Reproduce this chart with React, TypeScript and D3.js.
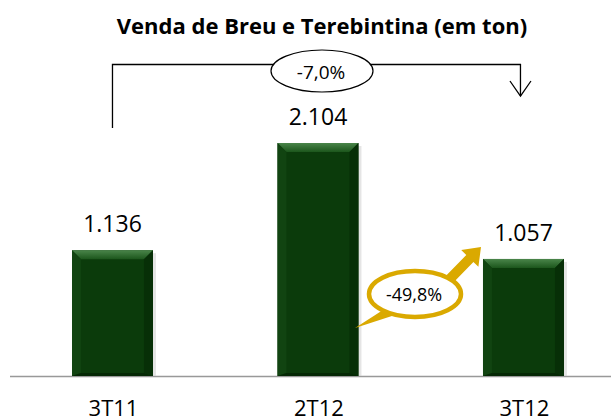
import React from "react";
import * as d3 from "d3";

const categories = ["3T11", "2T12", "3T12"];
const values = [1136, 2104, 1057];
const valueLabels = ["1.136", "2.104", "1.057"];
const title = "Venda de Breu e Terebintina (em ton)";
const changeTotal = "-7,0%";
const changeQoQ = "-49,8%";

const W = 611;
const H = 419;
const FONT = "'Open Sans', Lato, sans-serif";

function blockArrow(sx: number, sy: number, tx: number, ty: number, shaft: number, head: number, headLen: number) {
  const dx = tx - sx, dy = ty - sy;
  const L = Math.hypot(dx, dy);
  const ux = dx / L, uy = dy / L;
  const nx = -uy, ny = ux;
  const hx = tx - ux * headLen, hy = ty - uy * headLen;
  const p = (x: number, y: number) => `${x.toFixed(1)},${y.toFixed(1)}`;
  return [
    p(sx + nx * shaft, sy + ny * shaft),
    p(hx + nx * shaft, hy + ny * shaft),
    p(hx + nx * head, hy + ny * head),
    p(tx, ty),
    p(hx - nx * head, hy - ny * head),
    p(hx - nx * shaft, hy - ny * shaft),
    p(sx - nx * shaft, sy - ny * shaft),
  ].join(" ");
}

export default function App() {
  const baseY = 376;
  const x = d3.scaleBand<string>().domain(categories).range([10.35, 625.6]).paddingInner(0.606).paddingOuter(0.3);
  const y = d3.scaleLinear().domain([0, 2104]).range([baseY, 143]);
  const bw = x.bandwidth();
  const gold = "#DAA900";
  const bev = 9;

  return (
    <svg width={W} height={H} style={{ position: "absolute", left: 0, top: 0, fontFamily: FONT }}>
      <defs>
        <linearGradient id="topBev" x1="0" y1="0" x2="0" y2="1">
          <stop offset="0" stopColor="#4a854a" />
          <stop offset="1" stopColor="#1c561c" />
        </linearGradient>
        <marker id="arr" viewBox="0 0 20 24" refX="18" refY="12" markerWidth="20" markerHeight="24" orient="auto" markerUnits="userSpaceOnUse">
          <path d="M3,1.5 L18,12 L3,22.5" fill="none" stroke="#000" strokeWidth="1.3" />
        </marker>
      </defs>
      <rect width={W} height={H} fill="#fff" />
      <text x={322} y={34} textAnchor="middle" fontSize={22} fontWeight="bold" fill="#000">{title}</text>

      {/* axis */}
      <line x1={10} x2={611} y1={baseY + 0.5} y2={baseY + 0.5} stroke="#999" strokeWidth={1.5} />

      {categories.map((c, i) => {
        const bx = x(c)!;
        const by = y(values[i]);
        const bh = baseY - by;
        return (
          <g key={c}>
            <rect x={bx + 3} y={by + 3} width={bw} height={bh - 3} fill="#ccc" opacity={0.5} />
            <rect x={bx} y={by} width={bw} height={bh} fill="#0b3b0b" />
            <polygon points={`${bx},${by} ${bx + bw},${by} ${bx + bw - bev},${by + bev} ${bx + bev},${by + bev}`} fill="url(#topBev)" />
            <polygon points={`${bx},${by} ${bx + bev},${by + bev} ${bx + bev},${baseY - 3} ${bx},${baseY}`} fill="#114411" />
            <polygon points={`${bx + bw},${by} ${bx + bw - bev},${by + bev} ${bx + bw - bev},${baseY - 3} ${bx + bw},${baseY}`} fill="#072f07" />
            <polygon points={`${bx},${baseY} ${bx + bev},${baseY - 3} ${bx + bw - bev},${baseY - 3} ${bx + bw},${baseY}`} fill="#052805" />
            <text x={bx + bw / 2} y={by - 18} textAnchor="middle" fontSize={23} fill="#000">{valueLabels[i]}</text>
            <text x={bx + bw / 2 + 1} y={416} textAnchor="middle" fontSize={22} fill="#000">{c}</text>
          </g>
        );
      })}

      {/* bracket */}
      {(() => {
        const x0 = x(categories[0])! + bw / 2;
        const x2 = x(categories[2])! + bw / 2 - 3;
        return (
          <g>
            <path d={`M${x0},128 V64.5 H${x2} V96`} fill="none" stroke="#000" strokeWidth={1.3} markerEnd="url(#arr)" />
            <ellipse cx={322} cy={71} rx={51} ry={21} fill="#fff" stroke="#000" strokeWidth={1.2} />
            <text x={321} y={79} textAnchor="middle" fontSize={19} fill="#000">{changeTotal}</text>
          </g>
        );
      })()}

      {/* gold callout */}
      <g>
        <polygon points={blockArrow(443, 286, 481, 247, 5, 12, 16)} fill={gold} />
        <path d="M383,310 L355,328 L395,315 Z" fill={gold} />
        <ellipse cx={415} cy={294} rx={46} ry={23} fill="#fff" stroke={gold} strokeWidth={4.5} />
        <text x={414} y={301} textAnchor="middle" fontSize={18} fill="#000">{changeQoQ}</text>
      </g>
    </svg>
  );
}
